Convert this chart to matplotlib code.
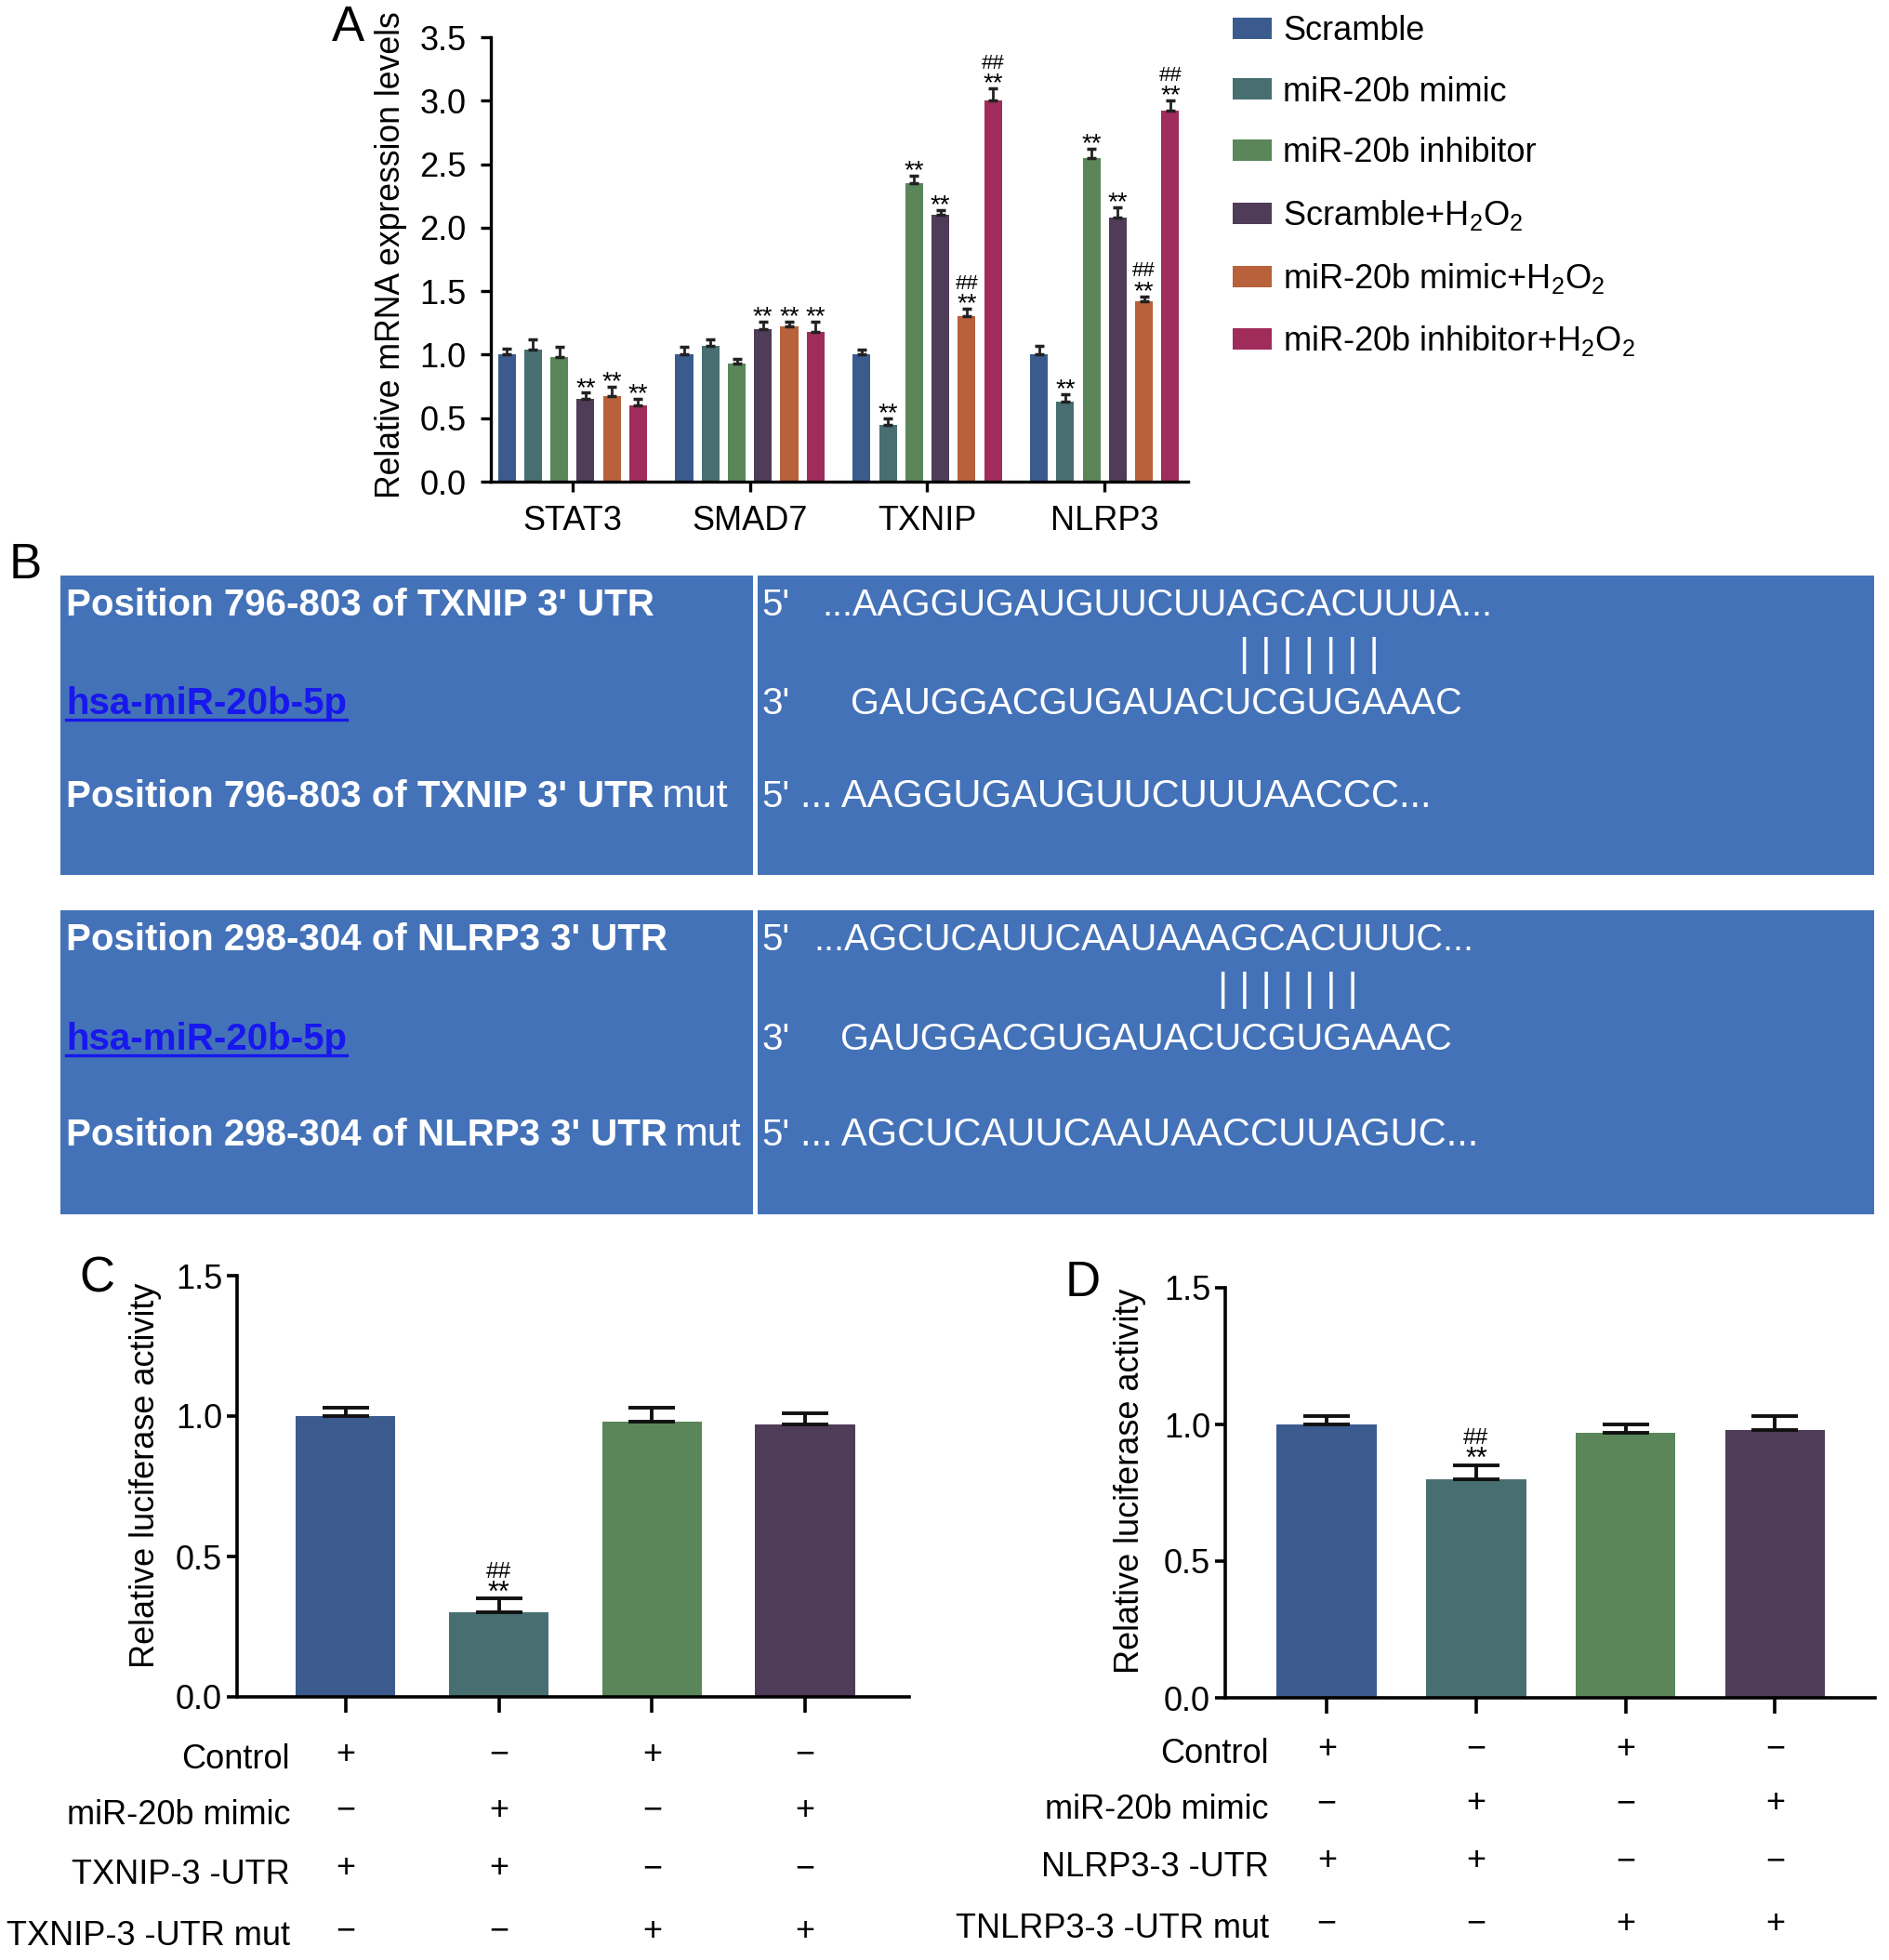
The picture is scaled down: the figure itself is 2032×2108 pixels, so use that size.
import matplotlib
matplotlib.use("Agg")
import matplotlib.pyplot as plt
import matplotlib.transforms as mtransforms
from matplotlib.patches import Rectangle, Patch
import numpy as np

W, H = 2032, 2108
plt.rcParams['font.family'] = ['Liberation Sans', 'DejaVu Sans']
plt.rcParams['mathtext.fontset'] = 'custom'
plt.rcParams['mathtext.rm'] = 'Liberation Sans'
plt.rcParams['mathtext.it'] = 'Liberation Sans:italic'

# ---------- panel A data ----------
genes = ["STAT3", "SMAD7", "TXNIP", "NLRP3"]
groups = ["Scramble", "miR-20b mimic", "miR-20b inhibitor",
          r"Scramble+H$_2$O$_2$", r"miR-20b mimic+H$_2$O$_2$",
          r"miR-20b inhibitor+H$_2$O$_2$"]
colors = ["#3b5b8f", "#476f72", "#5a8659", "#4f3c58", "#b8613a", "#a02c5c"]

scramble = [1.00, 1.00, 1.00, 1.00]
mimic = [1.04, 1.07, 0.45, 0.63]
inhibitor = [0.98, 0.93, 2.35, 2.55]
scramble_h2o2 = [0.65, 1.20, 2.10, 2.08]
mimic_h2o2 = [0.67, 1.22, 1.30, 1.42]
inhibitor_h2o2 = [0.60, 1.18, 3.00, 2.92]

err_scramble = [0.05, 0.06, 0.04, 0.07]
err_mimic = [0.08, 0.05, 0.05, 0.06]
err_inhibitor = [0.08, 0.04, 0.06, 0.07]
err_scramble_h2o2 = [0.05, 0.06, 0.04, 0.08]
err_mimic_h2o2 = [0.08, 0.04, 0.06, 0.04]
err_inhibitor_h2o2 = [0.05, 0.08, 0.10, 0.08]

star_scramble = ["", "", "", ""]
star_mimic = ["", "", "**", "**"]
star_inhibitor = ["", "", "**", "**"]
star_scramble_h2o2 = ["**", "**", "**", "**"]
star_mimic_h2o2 = ["**", "**", "**", "**"]
star_inhibitor_h2o2 = ["**", "**", "**", "**"]
hash_mimic_h2o2 = ["", "", "##", "##"]
hash_inhibitor_h2o2 = ["", "", "##", "##"]

# ---------- panel B text ----------
box_color = "#4472b8"
txnip_left = ["Position 796-803 of TXNIP 3' UTR", "hsa-miR-20b-5p",
              "Position 796-803 of TXNIP 3' UTR"]
txnip_prefix = ["5'", "3'", "5'"]
txnip_seq = ["...AAGGUGAUGUUCUUAGCACUUUA...",
             "GAUGGACGUGAUACUCGUGAAAC",
             "... AAGGUGAUGUUCUUUAACCC..."]
nlrp3_left = ["Position 298-304 of NLRP3 3' UTR", "hsa-miR-20b-5p",
              "Position 298-304 of NLRP3 3' UTR"]
nlrp3_prefix = ["5'", "3'", "5'"]
nlrp3_seq = ["...AGCUCAUUCAAUAAAGCACUUUC...",
             "GAUGGACGUGAUACUCGUGAAAC",
             "... AGCUCAUUCAAUAACCUUAGUC..."]
pairing = "|||||||"

# ---------- panel C / D data ----------
cd_colors = ["#3b5b8f", "#476f72", "#5a8659", "#4f3c58"]
c_values = [1.00, 0.30, 0.98, 0.97]
c_err = [0.03, 0.05, 0.05, 0.04]
d_values = [1.00, 0.80, 0.97, 0.98]
d_err = [0.03, 0.05, 0.03, 0.05]

c_rows = ["Control", "miR-20b mimic", "TXNIP-3 -UTR", "TXNIP-3 -UTR mut"]
d_rows = ["Control", "miR-20b mimic", "NLRP3-3 -UTR", "TNLRP3-3 -UTR mut"]
row_control = ["+", "\u2212", "+", "\u2212"]
row_mimic = ["\u2212", "+", "\u2212", "+"]
row_utr = ["+", "+", "\u2212", "\u2212"]
row_mut = ["\u2212", "\u2212", "+", "+"]


def rect(x0, y0, x1, y1):
    return [x0 / W, 1 - y1 / H, (x1 - x0) / W, (y1 - y0) / H]


def sig_marks(ax, xv, top, star, hsh, size):
    # glyphs of * sit high in the text box, so pull the label down a bit
    if star:
        ax.annotate(star, (xv, top), xytext=(0, -0.3 * size),
                    textcoords="offset points", ha="center", va="bottom",
                    fontsize=size)
    if hsh:
        ax.annotate(hsh, (xv, top), xytext=(0, 0.58 * size),
                    textcoords="offset points", ha="center", va="bottom",
                    fontsize=size * 0.8)


fig = plt.figure(figsize=(W / 100, H / 100), dpi=100)

# overlay axes in pixel space for panel B and letters
bax = fig.add_axes([0, 0, 1, 1])
bax.set_xlim(0, W)
bax.set_ylim(H, 0)
bax.axis("off")

# ---------- panel A ----------
axA = fig.add_axes(rect(528, 40, 1278, 518))
series = [scramble, mimic, inhibitor, scramble_h2o2, mimic_h2o2, inhibitor_h2o2]
errs = [err_scramble, err_mimic, err_inhibitor, err_scramble_h2o2,
        err_mimic_h2o2, err_inhibitor_h2o2]
stars = [star_scramble, star_mimic, star_inhibitor, star_scramble_h2o2,
         star_mimic_h2o2, star_inhibitor_h2o2]
hashes = [None, None, None, None, hash_mimic_h2o2, hash_inhibitor_h2o2]
x = np.arange(len(genes))
step = 0.148
for i, (vals, e, col) in enumerate(zip(series, errs, colors)):
    xi = x + (i - 2.5) * step
    axA.bar(xi, vals, width=0.1, color=col, label=groups[i], zorder=2)
    axA.errorbar(xi, vals, yerr=[np.zeros(len(vals)), e], fmt="none",
                 ecolor="#222222", elinewidth=2, capsize=3.5, capthick=2.5, zorder=3)
    for j in range(len(genes)):
        hs = hashes[i][j] if hashes[i] is not None else ""
        sig_marks(axA, xi[j], vals[j] + e[j], stars[i][j], hs, 20)
axA.set_xlim(-0.46, 3.47)
axA.set_ylim(0, 3.5)
axA.set_yticks(np.arange(0, 3.51, 0.5))
axA.set_yticklabels([f"{v:.1f}" for v in np.arange(0, 3.51, 0.5)])
axA.set_xticks(x)
axA.set_xticklabels(genes)
axA.set_ylabel("Relative mRNA expression levels", fontsize=25.7)
axA.yaxis.set_label_coords(-0.12, 0.51)
for s in ["top", "right"]:
    axA.spines[s].set_visible(False)
for s in ["left", "bottom"]:
    axA.spines[s].set_linewidth(2.4)
axA.tick_params(axis="both", labelsize=26, width=2.4, length=8)
axA.tick_params(axis="y", pad=11)
axA.tick_params(axis="x", pad=10)

handles = [Patch(facecolor=c, label=g) for c, g in zip(colors, groups)]
fig.legend(handles=handles, loc="upper left",
           bbox_to_anchor=(1326 / W, 1 - 16 / H), frameon=False, fontsize=26,
           handlelength=1.15, handleheight=0.6, handletextpad=0.35,
           labelspacing=0.85, borderpad=0, borderaxespad=0)

# ---------- panel B ----------
boxes = [(619, 941, txnip_left, txnip_prefix, txnip_seq, [884, 915, 861],
          [651, 757, 857], 705, 1408),
         (979, 1306, nlrp3_left, nlrp3_prefix, nlrp3_seq, [875, 904, 861],
          [1011, 1118, 1221], 1065, 1385)]
seq_sizes = [28.5, 28.5, 30]
bfont = ["Liberation Sans Narrow", "Liberation Sans", "DejaVu Sans"]
for y0, y1, left, prefix, seqs, seq_x, rows_y, pipe_y, pipe_x in boxes:
    bax.add_patch(Rectangle((65, y0), 745, y1 - y0, facecolor=box_color,
                            edgecolor="none"))
    bax.add_patch(Rectangle((815, y0), 2016 - 815, y1 - y0,
                            facecolor=box_color, edgecolor="none"))
    for k, (lt, pre, sq, sx, yy) in enumerate(zip(left, prefix, seqs, seq_x, rows_y)):
        col = "#1717ee" if k == 1 else "white"
        t = bax.text(71, yy, lt, color=col, fontsize=29, fontweight="bold",
                     family=bfont, va="center", ha="left")
        if k == 1:
            fig.canvas.draw()
            bb = t.get_window_extent(fig.canvas.get_renderer())
            inv = bax.transData.inverted()
            (ax0, ay0), (ax1, ay1) = inv.transform([[bb.x0, bb.y0], [bb.x1, bb.y1]])
            bax.plot([ax0, ax1], [ay0 - 2, ay0 - 2], color=col, lw=2.4)
        if k == 2:
            bax.annotate("mut", xy=(1, 0.5), xycoords=t, xytext=(5, 0),
                         textcoords="offset points", va="center",
                         ha="left", color="white", fontsize=31, family=bfont)
        bax.text(819, yy, pre, color="white", fontsize=29, family=bfont,
                 va="center", ha="left")
        bax.text(sx, yy, sq, color="white", fontsize=seq_sizes[k], family=bfont,
                 va="center", ha="left")
    bax.text(pipe_x, pipe_y, " ".join(pairing), color="white",
             fontsize=31, family=bfont, va="center", ha="center")


# ---------- panels C and D ----------
def luc_panel(box, values, err, xlim, width, rows, row_y, label_x, lab_xy):
    ax = fig.add_axes(rect(*box))
    xs = np.arange(len(values))
    ax.bar(xs, values, width=width, color=cd_colors, zorder=2)
    ax.errorbar(xs, values, yerr=[np.zeros(len(values)), err], fmt="none",
                ecolor="#111111", elinewidth=2.8, capsize=18, capthick=2.8,
                zorder=3)
    sig_marks(ax, 1, values[1] + err[1], "**", "##", 22)
    ax.set_xlim(*xlim)
    ax.set_ylim(0, 1.5)
    ax.set_yticks([0, 0.5, 1.0, 1.5])
    ax.set_yticklabels(["0.0", "0.5", "1.0", "1.5"])
    ax.set_xticks(xs)
    ax.set_xticklabels([])
    ax.set_ylabel("Relative luciferase activity", fontsize=26)
    ax.yaxis.set_label_coords(*lab_xy)
    for s in ["top", "right"]:
        ax.spines[s].set_visible(False)
    for s in ["left", "bottom"]:
        ax.spines[s].set_linewidth(2.6)
    ax.tick_params(axis="y", labelsize=26, width=2.6, length=8)
    ax.tick_params(axis="x", width=2.6, length=12)
    tr = mtransforms.blended_transform_factory(ax.transData, fig.transFigure)
    signs = [row_control, row_mimic, row_utr, row_mut]
    for name, marks, yy in zip(rows, signs, row_y):
        fig.text(label_x / W, 1 - yy / H, name, ha="right", va="center",
                 fontsize=26)
        for xi, m in zip(xs, marks):
            ax.text(xi, 1 - (yy - 6) / H, m, transform=tr, ha="center",
                    va="center", fontsize=26)
    return ax


luc_panel((255, 1372, 978, 1825), c_values, c_err, (-0.71, 3.68), 0.65,
          c_rows, [1893, 1953, 2016, 2083], 312, (-0.112, 0.525))
luc_panel((1318, 1385, 2017, 1826), d_values, d_err, (-0.68, 3.67), 0.67,
          d_rows, [1887, 1946, 2008, 2075], 1365, (-0.121, 0.53))

# panel letters
for lab, lx, ly in [("A", 374, 30), ("B", 27, 608), ("C", 104, 1376),
                    ("D", 1165, 1380)]:
    bax.text(lx, ly, lab, fontsize=38, ha="center", va="center")

fig.savefig("out.png", dpi=100)
